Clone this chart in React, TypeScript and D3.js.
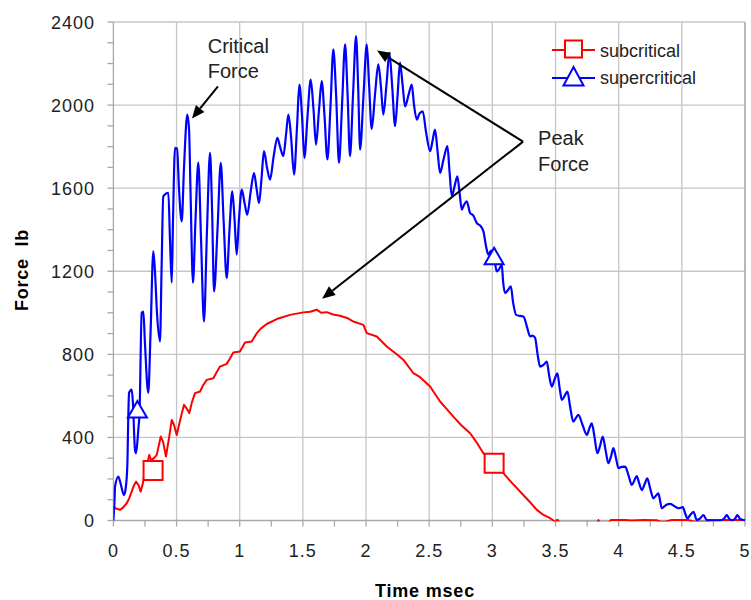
import React from 'react';
import * as d3 from 'd3';

// ---------- data ----------
const timeTicks = [0, 0.5, 1, 1.5, 2, 2.5, 3, 3.5, 4, 4.5, 5];
const timeTickLabels = ['0', '0.5', '1', '1.5', '2', '2.5', '3', '3.5', '4', '4.5', '5'];
const forceTicks = [0, 400, 800, 1200, 1600, 2000, 2400];
const forceTickLabels = ['0', '400', '800', '1200', '1600', '2000', '2400'];

const seriesNames = ['subcritical', 'supercritical'];

const subT = [0, 0.021, 0.052, 0.076, 0.105, 0.124, 0.145, 0.163, 0.179, 0.199, 0.216, 0.234, 0.25, 0.27, 0.284, 0.298, 0.321, 0.343, 0.375, 0.393, 0.416, 0.441, 0.462, 0.48, 0.501, 0.531, 0.559, 0.579, 0.601, 0.622, 0.646, 0.686, 0.709, 0.739, 0.791, 0.816, 0.844, 0.897, 0.923, 0.949, 1.002, 1.042, 1.095, 1.135, 1.169, 1.214, 1.293, 1.398, 1.504, 1.557, 1.61, 1.644, 1.689, 1.739, 1.794, 1.85, 1.9, 1.979, 2.006, 2.085, 2.164, 2.243, 2.301, 2.375, 2.428, 2.507, 2.586, 2.634, 2.691, 2.752, 2.824, 2.871, 2.929, 3.014, 3.087, 3.164, 3.245, 3.299, 3.352, 3.402, 3.457, 3.484, 3.5, 3.51, 3.52, 3.53, 3.83, 3.84, 3.85, 3.92, 3.94, 4.05, 4.1, 4.2, 4.3, 4.33, 4.37, 4.42, 4.55, 4.6, 4.7, 4.72, 5];
const subF = [67, 58, 51, 62, 83, 105, 139, 170, 187, 170, 139, 180, 240, 280, 316, 290, 300, 316, 404, 380, 308, 400, 484, 460, 412, 490, 557, 540, 517, 570, 613, 621, 650, 677, 685, 712, 741, 754, 780, 809, 814, 857, 862, 902, 925, 946, 970, 990, 1002, 1005, 1015, 1000, 1003, 992, 986, 975, 958, 942, 902, 886, 838, 800, 770, 709, 690, 645, 573, 540, 500, 460, 420, 380, 324, 276, 228, 175, 123, 88, 51, 28, 11, 0, -10, 2, 2, -10, -10, 2, -10, -10, 2, 2, 0, 2, 1, -6, -6, 2, 2, -6, -6, 2, 2];

const supT = [0, 0.009, 0.013, 0.039, 0.056, 0.084, 0.096, 0.11, 0.118, 0.124, 0.145, 0.155, 0.171, 0.179, 0.197, 0.207, 0.224, 0.237, 0.25, 0.276, 0.294, 0.316, 0.329, 0.345, 0.369, 0.381, 0.395, 0.435, 0.448, 0.462, 0.472, 0.488, 0.504, 0.519, 0.541, 0.559, 0.585, 0.599, 0.61, 0.63, 0.65, 0.672, 0.694, 0.717, 0.741, 0.765, 0.781, 0.797, 0.824, 0.85, 0.872, 0.897, 0.919, 0.941, 0.959, 0.976, 0.994, 1.016, 1.038, 1.06, 1.086, 1.113, 1.133, 1.153, 1.173, 1.192, 1.216, 1.24, 1.268, 1.298, 1.319, 1.345, 1.367, 1.385, 1.406, 1.43, 1.454, 1.472, 1.493, 1.512, 1.537, 1.562, 1.584, 1.604, 1.628, 1.649, 1.671, 1.694, 1.719, 1.741, 1.763, 1.786, 1.81, 1.834, 1.854, 1.873, 1.897, 1.921, 1.937, 1.953, 1.98, 2.006, 2.024, 2.045, 2.071, 2.097, 2.119, 2.137, 2.162, 2.185, 2.206, 2.23, 2.25, 2.269, 2.289, 2.309, 2.337, 2.362, 2.38, 2.402, 2.424, 2.449, 2.475, 2.507, 2.527, 2.546, 2.566, 2.586, 2.614, 2.644, 2.661, 2.679, 2.701, 2.723, 2.74, 2.758, 2.776, 2.797, 2.824, 2.847, 2.877, 2.903, 2.929, 2.95, 2.968, 2.99, 3.014, 3.035, 3.053, 3.075, 3.085, 3.101, 3.124, 3.146, 3.164, 3.188, 3.219, 3.246, 3.275, 3.299, 3.318, 3.338, 3.358, 3.378, 3.406, 3.431, 3.449, 3.47, 3.493, 3.515, 3.532, 3.55, 3.572, 3.594, 3.615, 3.641, 3.663, 3.681, 3.714, 3.748, 3.766, 3.787, 3.809, 3.831, 3.853, 3.874, 3.896, 3.918, 3.94, 3.958, 3.979, 3.998, 4.023, 4.051, 4.079, 4.104, 4.122, 4.143, 4.162, 4.183, 4.205, 4.227, 4.249, 4.275, 4.296, 4.314, 4.328, 4.341, 4.375, 4.407, 4.439, 4.473, 4.508, 4.526, 4.544, 4.565, 4.592, 4.619, 4.645, 4.671, 4.698, 4.74, 4.803, 4.835, 4.856, 4.874, 4.898, 4.922, 4.94, 4.961, 5];
const supF = [0, 100, 163, 211, 180, 123, 150, 259, 500, 615, 630, 560, 340, 324, 436, 520, 1000, 1006, 850, 614, 900, 1296, 1200, 1000, 862, 1200, 1561, 1578, 1350, 1145, 1450, 1794, 1790, 1600, 1440, 1700, 1954, 1880, 1600, 1145, 1450, 1723, 1350, 958, 1400, 1770, 1500, 1103, 1400, 1722, 1450, 1167, 1400, 1585, 1450, 1280, 1450, 1593, 1530, 1472, 1580, 1673, 1600, 1529, 1650, 1778, 1700, 1641, 1750, 1842, 1800, 1754, 1860, 1954, 1850, 1665, 1900, 2099, 1950, 1746, 1950, 2123, 1980, 1810, 1980, 2115, 1950, 1738, 2000, 2268, 2050, 1722, 2000, 2292, 2050, 1754, 2050, 2332, 2100, 1786, 2050, 2292, 2100, 1885, 2050, 2196, 2080, 1954, 2100, 2252, 2100, 1898, 2050, 2204, 2100, 1994, 2050, 2099, 2000, 1930, 1960, 1970, 1870, 1778, 1830, 1882, 1780, 1673, 1740, 1802, 1680, 1561, 1610, 1657, 1580, 1497, 1520, 1537, 1480, 1470, 1432, 1420, 1392, 1320, 1280, 1300, 1265, 1199, 1210, 1231, 1150, 1095, 1110, 1127, 1050, 990, 985, 982, 930, 886, 890, 880, 800, 741, 750, 765, 700, 645, 680, 709, 640, 581, 600, 621, 550, 476, 495, 509, 460, 412, 440, 468, 400, 324, 360, 404, 340, 276, 310, 348, 300, 252, 258, 259, 215, 171, 190, 214, 180, 147, 175, 203, 155, 107, 120, 131, 95, 59, 75, 80, 70, 59, 64, 35, 11, 25, 42, 2, 10, 26, 2, 0, 0, 10, 26, 10, 0, 10, 26, 8, 0];

const subMarkerT = [0.314, 3.014];
const subMarkerF = [241, 276];
const supMarkerT = [0.19, 3.014];
const supMarkerF = [527, 1265];

// annotation anchor points (data units)
const critLabel = { t: 0.747, lines: [2252, 2131], text: ['Critical', 'Force'] };
const critArrow = { from: [0.828, 2090], to: [0.622, 1935] };
const peakLabel = { t: 3.362, lines: [1807, 1681], text: ['Peak', 'Force'] };
const peakArrows = [
  { from: [3.243, 1824], to: [2.087, 2263] },
  { from: [3.243, 1824], to: [1.652, 1068] },
];

// ---------- layout ----------
const W = 751;
const H = 600;
const X0 = 113.4;
const X1 = 745;
const Y0 = 520.5;
const Y1 = 22;
const FONT = '"Liberation Sans", Arial, sans-serif';
const RED = '#ff0000';
const BLUE = '#0000ff';

const xs = d3.scaleLinear().domain([0, 5]).range([X0, X1]);
const ys = d3.scaleLinear().domain([0, 2400]).range([Y0, Y1]);

const minorX = d3.range(0, 5.001, 0.25);
const minorY = d3.range(0, 2400.1, 100);

const squarePath = (cx: number, cy: number, s = 9.5) =>
  `M${cx - s},${cy - s}H${cx + s}V${cy + s}H${cx - s}Z`;
const triPath = (cx: number, cy: number) =>
  `M${cx},${cy - 10}L${cx + 9.5},${cy + 6.5}L${cx - 9.5},${cy + 6.5}Z`;

function Arrow({ from, to }: { from: number[]; to: number[] }) {
  const x1 = xs(from[0]);
  const y1 = ys(from[1]);
  const x2 = xs(to[0]);
  const y2 = ys(to[1]);
  const ang = Math.atan2(y2 - y1, x2 - x1);
  const L = 13;
  const Wd = 5.5;
  const bx = x2 - L * Math.cos(ang);
  const by = y2 - L * Math.sin(ang);
  const px = -Math.sin(ang) * Wd;
  const py = Math.cos(ang) * Wd;
  return (
    <g>
      <line x1={x1} y1={y1} x2={bx} y2={by} stroke="#000" strokeWidth={2} />
      <path d={`M${x2},${y2}L${bx + px},${by + py}L${bx - px},${by - py}Z`} fill="#000" />
    </g>
  );
}

export default function App() {
  const subData = subT.map((t, i) => [t, subF[i]] as [number, number]);
  const supData = supT.map((t, i) => [t, supF[i]] as [number, number]);
  const line = d3
    .line<[number, number]>()
    .x((d) => xs(d[0]))
    .y((d) => ys(d[1]));
  const smoothLine = d3
    .line<[number, number]>()
    .x((d) => xs(d[0]))
    .y((d) => ys(d[1]))
    .curve(d3.curveMonotoneX);

  const gridColor = '#c6c6c6';
  const axisColor = '#a8a8a8';

  return (
    <svg
      width={W}
      height={H}
      style={{ position: 'absolute', left: 0, top: 0, background: '#fff' }}
      fontFamily={FONT}
    >
      <defs>
        <clipPath id="plotClip">
          <rect x={X0} y={Y1 - 5} width={X1 - X0 + 2} height={Y0 - Y1 + 6} />
        </clipPath>
      </defs>
      <rect x={0} y={0} width={W} height={H} fill="#fff" />

      {/* grid */}
      {timeTicks.slice(1).map((t) => (
        <line key={'gx' + t} x1={xs(t)} x2={xs(t)} y1={Y1} y2={Y0} stroke={gridColor} strokeWidth={1.3} />
      ))}
      {forceTicks.slice(1).map((f) => (
        <line key={'gy' + f} x1={X0} x2={X1} y1={ys(f)} y2={ys(f)} stroke={gridColor} strokeWidth={1.3} />
      ))}

      {/* axes */}
      <line x1={X0} x2={X0} y1={Y1} y2={Y0} stroke={axisColor} strokeWidth={1.3} />
      <line x1={X0} x2={X1} y1={Y0} y2={Y0} stroke={axisColor} strokeWidth={1.3} />
      <line x1={X1} x2={X1} y1={Y1} y2={Y0} stroke={axisColor} strokeWidth={1.3} />
      {minorX.map((t) => (
        <line key={'tx' + t} x1={xs(t)} x2={xs(t)} y1={Y0} y2={Y0 + 6} stroke={axisColor} strokeWidth={1.3} />
      ))}
      {minorY.map((f) => (
        <line key={'ty' + f} x1={X0 - 6} x2={X0} y1={ys(f)} y2={ys(f)} stroke={axisColor} strokeWidth={1.3} />
      ))}

      {/* tick labels */}
      {forceTicks.map((f, i) => (
        <text
          key={'ly' + f}
          x={95}
          y={ys(f) + 6.5}
          textAnchor="end"
          fontSize={18}
          letterSpacing={1}
          fill="#222"
        >
          {forceTickLabels[i]}
        </text>
      ))}
      {timeTicks.map((t, i) => (
        <text
          key={'lx' + t}
          x={xs(t)}
          y={557}
          textAnchor="middle"
          fontSize={18}
          letterSpacing={1}
          fill="#222"
        >
          {timeTickLabels[i]}
        </text>
      ))}

      {/* axis titles */}
      <text x={425} y={597} textAnchor="middle" fontSize={18} fontWeight="bold" letterSpacing={0.8} fill="#000">
        Time msec
      </text>
      <text
        transform="translate(28,270) rotate(-90)"
        textAnchor="middle"
        fontSize={18}
        fontWeight="bold"
        letterSpacing={0.8}
        fill="#000"
        style={{ whiteSpace: 'pre' }}
      >
        {'Force  lb'}
      </text>

      {/* series */}
      <g clipPath="url(#plotClip)">
        <path d={line(subData) || ''} fill="none" stroke={RED} strokeWidth={2} strokeLinejoin="round" />
        <path d={smoothLine(supData) || ''} fill="none" stroke={BLUE} strokeWidth={2.2} strokeLinejoin="round" />
      </g>

      {/* markers */}
      {subMarkerT.map((t, i) => (
        <path key={'sm' + i} d={squarePath(xs(t), ys(subMarkerF[i]))} fill="#fff" stroke={RED} strokeWidth={2} />
      ))}
      {supMarkerT.map((t, i) => (
        <path key={'pm' + i} d={triPath(xs(t), ys(supMarkerF[i]))} fill="#fff" stroke={BLUE} strokeWidth={2} />
      ))}

      {/* annotations */}
      {critLabel.text.map((s, i) => (
        <text key={'ct' + i} x={xs(critLabel.t)} y={ys(critLabel.lines[i])} fontSize={20} fill="#222">
          {s}
        </text>
      ))}
      <Arrow from={critArrow.from} to={critArrow.to} />
      {peakLabel.text.map((s, i) => (
        <text key={'pt' + i} x={xs(peakLabel.t)} y={ys(peakLabel.lines[i])} fontSize={20} fill="#222">
          {s}
        </text>
      ))}
      {peakArrows.map((a, i) => (
        <Arrow key={'pa' + i} from={a.from} to={a.to} />
      ))}

      {/* legend */}
      <g>
        <line x1={552} x2={595} y1={50} y2={50} stroke={RED} strokeWidth={2} />
        <path d={squarePath(573.5, 49, 8.5)} fill="#fff" stroke={RED} strokeWidth={2} />
        <text x={600} y={57} fontSize={18} fill="#222">
          {seriesNames[0]}
        </text>
        <line x1={552} x2={595} y1={78} y2={78} stroke={BLUE} strokeWidth={2} />
        <path d={`M573.5,67L583.5,85.5L563.5,85.5Z`} fill="#fff" stroke={BLUE} strokeWidth={2} />
        <text x={600} y={84} fontSize={18} fill="#222">
          {seriesNames[1]}
        </text>
      </g>
    </svg>
  );
}
